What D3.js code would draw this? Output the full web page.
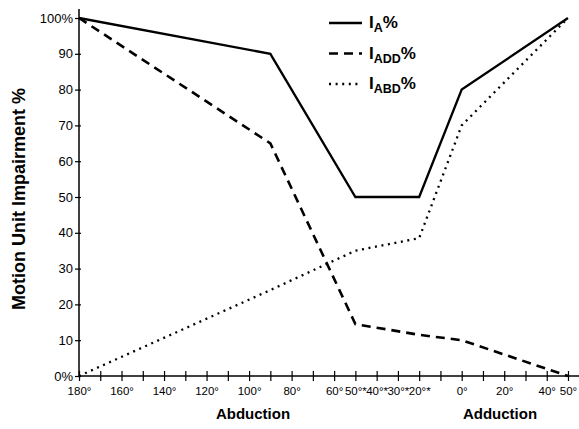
<!DOCTYPE html>
<html>
<head>
<meta charset="utf-8">
<script src="https://cdn.jsdelivr.net/npm/d3@7"></script>
<style>
  html, body { margin: 0; padding: 0; background: #fff; }
  svg { display: block; font-family: "Liberation Sans", Arial, sans-serif; }
</style>
</head>
<body>
<svg id="chart" width="579" height="429"></svg>
<script>
// Position along the motion axis, in degrees travelled from 180° abduction
const pointLabels = ["180°", "90°", "50°*", "20°*", "0°", "50°"];
const pointPos = [0, 90, 130, 160, 180, 230];
const iA   = [100, 90, 50, 50, 80, 100];
const iADD = [100, 65, 14.5, 11.5, 10, 0];
const iABD = [0, 24, 35, 38.5, 70, 100];

const xTickPos = [0,10,20,30,40,50,60,70,80,90,100,110,120,130,140,150,160,170,180,190,200,210,220,230];
const xTickLabels = ["180°","","160°","","140°","","120°","","100°","","80°","","60°","50°*","40°*","30°*","20°*","","0°","","20°","","40°","50°"];
const yTickVals = [0,10,20,30,40,50,60,70,80,90,100];
const yTickLabels = ["0%","10","20","30","40","50","60","70","80","90","100%"];

const seriesNames = ["A", "ADD", "ABD"];
const seriesData = [iA, iADD, iABD];
const seriesDash = [null, "9,6", "2,4.6"];
const seriesWidth = [2.3, 2.6, 2.3];

const svg = d3.select("#chart");
const x = d3.scaleLinear().domain([0, 230]).range([79, 568]);
const y = d3.scaleLinear().domain([0, 100]).range([376, 18]);

// X axis
const xAxis = d3.axisBottom(x)
  .tickValues(xTickPos)
  .tickFormat((d, i) => xTickLabels[i])
  .tickSizeOuter(0).tickSizeInner(5).tickPadding(6);
const gx = svg.append("g").attr("transform", `translate(0,${y(0)})`).call(xAxis);
gx.select(".domain").remove();
gx.selectAll(".tick line").attr("y1", -5).attr("y2", 5).attr("stroke", "#000").attr("stroke-width", 1.2);
gx.selectAll(".tick text").attr("font-size", 11.5).attr("fill", "#000").attr("dy", "0.71em");
svg.append("line").attr("x1", x(0)).attr("x2", 579).attr("y1", y(0)).attr("y2", y(0))
  .attr("stroke", "#000").attr("stroke-width", 1.6);

// Y axis
const yAxis = d3.axisLeft(y)
  .tickValues(yTickVals)
  .tickFormat((d, i) => yTickLabels[i])
  .tickSizeOuter(0).tickSizeInner(4).tickPadding(2);
const gy = svg.append("g").attr("transform", `translate(${x(0)},0)`).call(yAxis);
gy.select(".domain").remove();
gy.selectAll(".tick line").attr("x1", -4).attr("x2", 2).attr("stroke", "#000").attr("stroke-width", 1.2);
gy.selectAll(".tick text").attr("font-size", 13).attr("fill", "#000");
svg.append("line").attr("x1", x(0)).attr("x2", x(0)).attr("y1", y(0)).attr("y2", 9)
  .attr("stroke", "#000").attr("stroke-width", 1.5);

// Lines
const line = d3.line().x((d, i) => x(pointPos[i])).y(d => y(d));
seriesData.forEach((vals, k) => {
  svg.append("path")
    .attr("d", line(vals))
    .attr("fill", "none")
    .attr("stroke", "#000")
    .attr("stroke-width", seriesWidth[k])
    .attr("stroke-dasharray", seriesDash[k])
    .attr("stroke-linejoin", "miter");
});

// Legend
const legend = svg.append("g");
seriesNames.forEach((name, k) => {
  const ly = 23 + k * 30.5;
  legend.append("line")
    .attr("x1", 329).attr("x2", 362).attr("y1", ly).attr("y2", ly)
    .attr("stroke", "#000").attr("stroke-width", seriesWidth[k])
    .attr("stroke-dasharray", seriesDash[k]);
  const t = legend.append("text").attr("x", 369).attr("y", ly + 5)
    .attr("font-size", 17).attr("font-weight", "bold").attr("fill", "#000");
  t.append("tspan").text("I");
  t.append("tspan").attr("dy", 4).attr("font-size", 12.5).text(name);
  t.append("tspan").attr("dy", -4).text("%");
});

// Axis titles
svg.append("text")
  .attr("transform", `translate(25,${(y(0) + y(100)) / 2 + 2}) rotate(-90)`)
  .attr("text-anchor", "middle")
  .attr("font-size", 18).attr("font-weight", "bold").attr("fill", "#000")
  .text("Motion Unit Impairment %");
svg.append("text").attr("x", 253).attr("y", 419).attr("text-anchor", "middle")
  .attr("font-size", 15).attr("font-weight", "bold").attr("fill", "#000").text("Abduction");
svg.append("text").attr("x", 500).attr("y", 419).attr("text-anchor", "middle")
  .attr("font-size", 15).attr("font-weight", "bold").attr("fill", "#000").text("Adduction");
</script>
</body>
</html>
